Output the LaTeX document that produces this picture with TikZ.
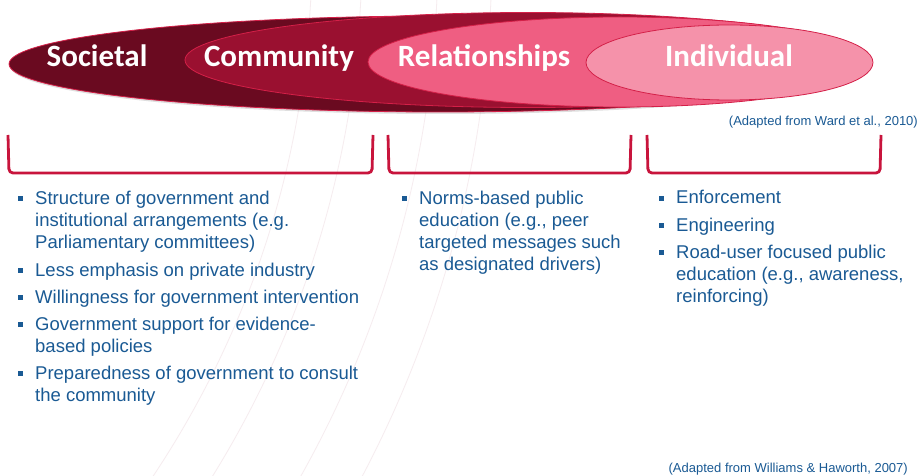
\documentclass[tikz,border=0pt]{standalone}
\usepackage{fontspec}
\setmainfont{Liberation Sans}
\newfontfamily\labelfont{Carlito}
\usetikzlibrary{shapes.geometric,shadows}

\definecolor{socfill}{HTML}{6A0A20}
\definecolor{comfill}{HTML}{9A1030}
\definecolor{relfill}{HTML}{EF5E82}
\definecolor{indfill}{HTML}{F592AA}
\definecolor{rimcol}{HTML}{D42048}
\definecolor{brkcol}{HTML}{C8143C}
\definecolor{txtblue}{HTML}{1A5A94}
\definecolor{arccol}{HTML}{F6ECEF}

\tikzset{
  ring/.style={ellipse, draw=rimcol, line width=0.8pt, inner sep=0pt},
  lvl/.style={anchor=base, text=white, inner sep=0pt,
    font=\labelfont\bfseries\fontsize{31}{36}\selectfont},
  brace/.style={draw=brkcol, line width=2.8pt, rounded corners=4pt},
  bul/.style={rectangle, fill=txtblue, minimum size=5pt, inner sep=0pt},
  % anchored at the baseline of the last line of each item
  item/.style={anchor=base west, align=left, text=txtblue, inner sep=0pt,
    font=\fontsize{18.5}{22}\selectfont},
  cite/.style={text=txtblue, inner sep=0pt, font=\fontsize{13}{15}\selectfont},
  bgarc/.style={draw=arccol, line width=0.8pt}
}

\begin{document}
\begin{tikzpicture}[x=1pt,y=-1pt]
\useasboundingbox[fill=white] (0,0) rectangle (924,476);

% faint concentric arcs in the background
\begin{scope}
  \clip (0,0) rectangle (924,476);
  \foreach \r in {950,1000,1076,1130}
    \draw[bgarc] (-638,-50) circle[radius=\r];
\end{scope}

% nested ellipses, outermost first
\node[ring, fill=socfill, minimum width=862pt, minimum height=96pt,
      drop shadow={shadow xshift=1pt, shadow yshift=-2pt, opacity=0.25}] (soc) at (440,64) {};
\node[ring, fill=comfill, minimum width=686pt, minimum height=95pt] (com) at (528,60) {};
\node[ring, fill=relfill, minimum width=504pt, minimum height=90pt] (rel) at (620,62) {};
\node[ring, fill=indfill, minimum width=287pt, minimum height=75pt] (ind) at (729.5,62.5) {};

\node[lvl] (tsoc) at (97,67) {Societal};
\node[lvl] (tcom) at (279,67) {Community};
\node[lvl] (trel) at (484,67) {Relationships};
\node[lvl] (tind) at (729,67) {Individual};

\node[cite, anchor=base east] (ward) at (918,126) {(Adapted from Ward et al., 2010)};

% brackets under each level
\draw[brace] (8,135) -- (9,173) -- (372,173) -- (373,135);
\draw[brace] (388,135) -- (389,173) -- (630,173) -- (631,135);
\draw[brace] (647,135) -- (648,173) -- (880,173) -- (881,135);

% societal / community column
\node[bul] (b1) at (20.5,198.5) {};
\node[item] (i1) at (35,248) {Structure of government and\\institutional arrangements (e.g.\\Parliamentary committees)};
\node[bul] (b2) at (20.5,270.5) {};
\node[item] (i2) at (35,276) {Less emphasis on private industry};
\node[bul] (b3) at (20.5,297.5) {};
\node[item] (i3) at (35,303) {Willingness for government intervention};
\node[bul] (b4) at (20.5,324.5) {};
\node[item] (i4) at (35,352) {Government support for evidence-\\based policies};
\node[bul] (b5) at (20.5,373.5) {};
\node[item] (i5) at (35,401) {Preparedness of government to consult\\the community};

% relationships column
\node[bul] (b6) at (404,198.5) {};
\node[item] (i6) at (419,270) {Norms-based public\\education (e.g., peer\\targeted messages such\\as designated drivers)};

% individual column
\node[bul] (b7) at (661,198.5) {};
\node[item] (i7) at (676,204) {Enforcement};
\node[bul] (b8) at (661,225.5) {};
\node[item] (i8) at (676,231) {Engineering};
\node[bul] (b9) at (661,252.5) {};
\node[item] (i9) at (676,302) {Road-user focused public\\education (e.g., awareness,\\reinforcing)};

\node[cite, anchor=base east] (williams) at (908,472) {(Adapted from Williams \& Haworth, 2007)};
\end{tikzpicture}
\end{document}
